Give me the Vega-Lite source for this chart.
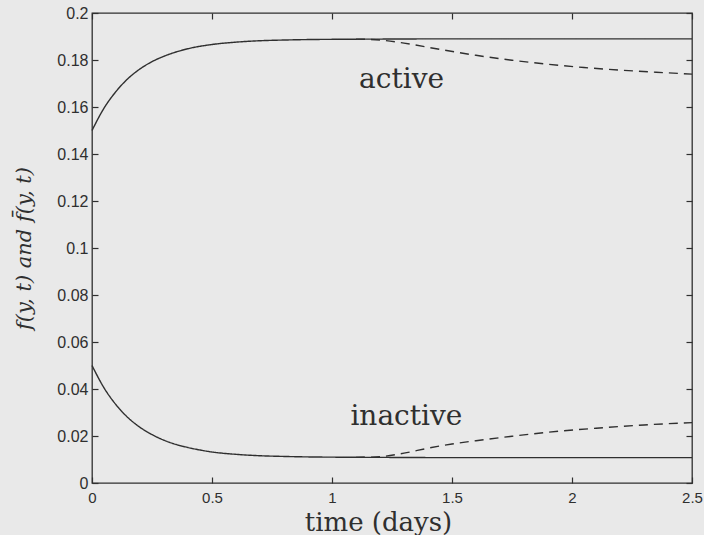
{
  "$schema": "https://vega.github.io/schema/vega-lite/v6.json",
  "width": 600,
  "height": 470,
  "autosize": {"type": "none"},
  "padding": {"left": 92, "top": 13, "right": 12, "bottom": 52},
  "background": "#e9e9e9",
  "config": {
    "view": {"stroke": "#2f2f2f", "strokeWidth": 1.3},
    "axis": {
      "domain": false,
      "grid": false,
      "tickColor": "#2f2f2f",
      "tickSize": -6,
      "tickWidth": 1.2,
      "labelFont": "Liberation Sans",
      "labelFontSize": 16,
      "labelColor": "#2f2f2f",
      "titleFont": "DejaVu Serif",
      "titleFontWeight": "normal",
      "titleColor": "#2f2f2f"
    }
  },
  "datasets": {
    "curves": [
      {"t": 0, "f": 0.150, "curve": "active", "kind": "solid"},
      {"t": 0.05, "f": 0.1595, "curve": "active", "kind": "solid"},
      {"t": 0.1, "f": 0.1666, "curve": "active", "kind": "solid"},
      {"t": 0.15, "f": 0.1721, "curve": "active", "kind": "solid"},
      {"t": 0.2, "f": 0.1762, "curve": "active", "kind": "solid"},
      {"t": 0.25, "f": 0.1793, "curve": "active", "kind": "solid"},
      {"t": 0.3, "f": 0.1816, "curve": "active", "kind": "solid"},
      {"t": 0.35, "f": 0.1834, "curve": "active", "kind": "solid"},
      {"t": 0.4, "f": 0.1848, "curve": "active", "kind": "solid"},
      {"t": 0.5, "f": 0.1866, "curve": "active", "kind": "solid"},
      {"t": 0.6, "f": 0.1876, "curve": "active", "kind": "solid"},
      {"t": 0.7, "f": 0.1882, "curve": "active", "kind": "solid"},
      {"t": 0.8, "f": 0.1885, "curve": "active", "kind": "solid"},
      {"t": 0.9, "f": 0.1887, "curve": "active", "kind": "solid"},
      {"t": 1.0, "f": 0.1888, "curve": "active", "kind": "solid"},
      {"t": 1.2, "f": 0.1889, "curve": "active", "kind": "solid"},
      {"t": 1.5, "f": 0.1890, "curve": "active", "kind": "solid"},
      {"t": 2.0, "f": 0.1890, "curve": "active", "kind": "solid"},
      {"t": 2.5, "f": 0.1890, "curve": "active", "kind": "solid"},

      {"t": 0, "f": 0.0500, "curve": "inactive", "kind": "solid"},
      {"t": 0.05, "f": 0.0405, "curve": "inactive", "kind": "solid"},
      {"t": 0.1, "f": 0.0333, "curve": "inactive", "kind": "solid"},
      {"t": 0.15, "f": 0.0278, "curve": "inactive", "kind": "solid"},
      {"t": 0.2, "f": 0.0237, "curve": "inactive", "kind": "solid"},
      {"t": 0.25, "f": 0.0206, "curve": "inactive", "kind": "solid"},
      {"t": 0.3, "f": 0.0182, "curve": "inactive", "kind": "solid"},
      {"t": 0.35, "f": 0.0164, "curve": "inactive", "kind": "solid"},
      {"t": 0.4, "f": 0.0151, "curve": "inactive", "kind": "solid"},
      {"t": 0.5, "f": 0.0132, "curve": "inactive", "kind": "solid"},
      {"t": 0.6, "f": 0.0122, "curve": "inactive", "kind": "solid"},
      {"t": 0.7, "f": 0.0116, "curve": "inactive", "kind": "solid"},
      {"t": 0.8, "f": 0.0113, "curve": "inactive", "kind": "solid"},
      {"t": 0.9, "f": 0.0111, "curve": "inactive", "kind": "solid"},
      {"t": 1.0, "f": 0.0110, "curve": "inactive", "kind": "solid"},
      {"t": 1.2, "f": 0.0109, "curve": "inactive", "kind": "solid"},
      {"t": 1.5, "f": 0.0108, "curve": "inactive", "kind": "solid"},
      {"t": 2.0, "f": 0.0108, "curve": "inactive", "kind": "solid"},
      {"t": 2.5, "f": 0.0108, "curve": "inactive", "kind": "solid"},

      {"t": 1.1, "f": 0.1889, "curve": "active-bar", "kind": "dashed"},
      {"t": 1.2, "f": 0.1885, "curve": "active-bar", "kind": "dashed"},
      {"t": 1.3, "f": 0.1872, "curve": "active-bar", "kind": "dashed"},
      {"t": 1.45, "f": 0.1845, "curve": "active-bar", "kind": "dashed"},
      {"t": 1.6, "f": 0.1820, "curve": "active-bar", "kind": "dashed"},
      {"t": 1.75, "f": 0.1799, "curve": "active-bar", "kind": "dashed"},
      {"t": 1.9, "f": 0.1782, "curve": "active-bar", "kind": "dashed"},
      {"t": 2.05, "f": 0.1768, "curve": "active-bar", "kind": "dashed"},
      {"t": 2.2, "f": 0.1757, "curve": "active-bar", "kind": "dashed"},
      {"t": 2.35, "f": 0.1748, "curve": "active-bar", "kind": "dashed"},
      {"t": 2.5, "f": 0.1740, "curve": "active-bar", "kind": "dashed"},

      {"t": 1.1, "f": 0.0109, "curve": "inactive-bar", "kind": "dashed"},
      {"t": 1.2, "f": 0.0112, "curve": "inactive-bar", "kind": "dashed"},
      {"t": 1.3, "f": 0.0127, "curve": "inactive-bar", "kind": "dashed"},
      {"t": 1.4, "f": 0.0148, "curve": "inactive-bar", "kind": "dashed"},
      {"t": 1.5, "f": 0.0166, "curve": "inactive-bar", "kind": "dashed"},
      {"t": 1.6, "f": 0.0180, "curve": "inactive-bar", "kind": "dashed"},
      {"t": 1.75, "f": 0.0199, "curve": "inactive-bar", "kind": "dashed"},
      {"t": 1.9, "f": 0.0216, "curve": "inactive-bar", "kind": "dashed"},
      {"t": 2.1, "f": 0.0233, "curve": "inactive-bar", "kind": "dashed"},
      {"t": 2.3, "f": 0.0247, "curve": "inactive-bar", "kind": "dashed"},
      {"t": 2.5, "f": 0.0257, "curve": "inactive-bar", "kind": "dashed"}
    ],
    "labels": [
      {"t": 1.29, "f": 0.168, "label": "active"},
      {"t": 1.31, "f": 0.0248, "label": "inactive"}
    ]
  },
  "layer": [
    {
      "data": {"name": "curves"},
      "mark": {"type": "line", "color": "#2f2f2f", "strokeWidth": 1.4, "interpolate": "monotone"},
      "encoding": {
        "x": {
          "field": "t", "type": "quantitative",
          "scale": {"domain": [0, 2.5], "nice": false, "zero": false},
          "axis": {
            "orient": "bottom",
            "values": [0, 0.5, 1, 1.5, 2, 2.5],
            "format": "~g",
            "labelPadding": 13,
            "labelFontSize": 15,
            "labelFlush": false,
            "title": "time (days)",
            "titleFontSize": 26,
            "titlePadding": 4,
            "titleX": 286
          }
        },
        "y": {
          "field": "f", "type": "quantitative",
          "scale": {"domain": [0, 0.2], "nice": false},
          "axis": {
            "orient": "left",
            "values": [0, 0.02, 0.04, 0.06, 0.08, 0.1, 0.12, 0.14, 0.16, 0.18, 0.2],
            "format": "~g",
            "labelPadding": 10,
            "labelFlush": false,
            "title": "f(y, t) and f̄(y, t)",
            "titleFontSize": 21,
            "titleFontStyle": "italic",
            "titlePadding": 22
          }
        },
        "detail": {"field": "curve"},
        "strokeDash": {
          "field": "kind", "type": "nominal",
          "scale": {"domain": ["solid", "dashed"], "range": [[1, 0], [9, 6]]},
          "legend": null
        }
      }
    },
    {
      "data": {"name": "labels"},
      "mark": {"type": "text", "font": "DejaVu Serif", "fontSize": 28, "color": "#2f2f2f", "align": "center", "baseline": "alphabetic"},
      "encoding": {
        "x": {
          "field": "t", "type": "quantitative",
          "axis": {"orient": "top", "values": [0, 0.5, 1, 1.5, 2, 2.5], "labels": false, "title": null}
        },
        "y": {
          "field": "f", "type": "quantitative",
          "axis": {"orient": "right", "values": [0, 0.02, 0.04, 0.06, 0.08, 0.1, 0.12, 0.14, 0.16, 0.18, 0.2], "labels": false, "title": null}
        },
        "text": {"field": "label"}
      }
    }
  ],
  "resolve": {"axis": {"x": "independent", "y": "independent"}}
}
